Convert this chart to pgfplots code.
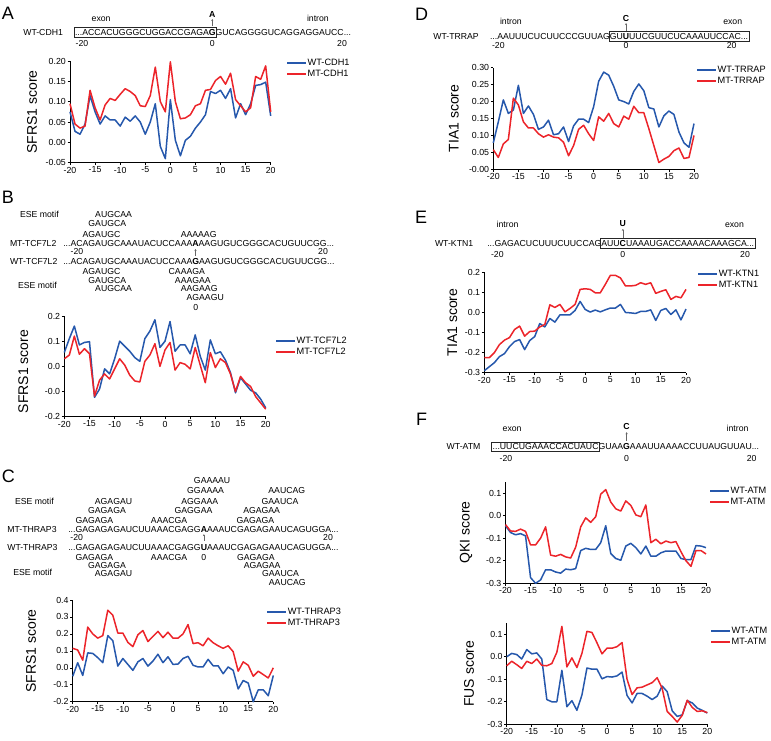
\documentclass[border=0pt]{standalone}
\usepackage{pgfplots}
\pgfplotsset{compat=1.18}
\usepackage{pgfplotstable}
\usepackage{fontspec}
\setmainfont{Liberation Sans}
\usetikzlibrary{calc,arrows.meta}
\definecolor{wtblue}{RGB}{38,88,172}
\definecolor{mtred}{RGB}{236,36,42}

\pgfplotstableread{
x wt mt
-20 0.075 0.095
-19 0.027 0.045
-18 0.020 0.035
-17 0.045 0.040
-16 0.115 0.128
-15 0.075 0.085
-14 0.045 0.055
-13 0.065 0.092
-12 0.055 0.108
-11 0.055 0.103
-10 0.040 0.118
-9 0.062 0.132
-8 0.052 0.125
-7 0.065 0.115
-6 0.050 0.090
-5 0.020 0.088
-4 0.050 0.115
-3 0.095 0.185
-2 -0.010 0.100
-1 -0.040 0.075
0 0.105 0.198
1 0.005 0.100
2 -0.033 0.058
3 0.005 0.060
4 0.015 0.068
5 0.035 0.090
6 0.050 0.095
7 0.068 0.128
8 0.125 0.130
9 0.120 0.152
10 0.128 0.162
11 0.108 0.143
12 0.132 0.170
13 0.060 0.105
14 0.095 0.090
15 0.068 0.075
16 0.095 0.085
17 0.140 0.162
18 0.142 0.155
19 0.148 0.188
20 0.065 0.075
}\dataA

\pgfplotstableread{
x wt mt
-20 0.055 0.030
-19 0.110 0.045
-18 0.160 0.120
-17 0.085 0.048
-16 0.095 0.070
-15 0.098 0.050
-14 -0.123 -0.118
-13 -0.090 -0.055
-12 -0.010 -0.030
-11 -0.030 -0.050
-10 0.030 -0.010
-9 0.100 0.030
-8 0.080 0.005
-7 0.060 -0.035
-6 0.035 -0.058
-5 0.020 -0.062
-4 0.110 0.020
-3 0.140 0.045
-2 0.185 0.090
-1 0.075 0.000
0 0.100 0.065
1 0.178 0.095
2 0.060 -0.015
3 0.085 0.015
4 0.085 0.008
5 0.050 -0.010
6 0.125 0.075
7 0.040 0.005
8 -0.015 -0.065
9 0.105 0.055
10 0.050 -0.005
11 0.058 0.030
12 0.025 0.015
13 -0.025 -0.030
14 -0.105 -0.100
15 -0.045 -0.040
16 -0.070 -0.065
17 -0.095 -0.080
18 -0.105 -0.120
19 -0.130 -0.145
20 -0.165 -0.170
}\dataB

\pgfplotstableread{
x wt mt
-20 -0.050 0.115
-19 0.030 0.105
-18 -0.045 0.045
-17 0.088 0.240
-16 0.085 0.200
-15 0.060 0.175
-14 0.030 0.190
-13 0.190 0.340
-12 0.160 0.310
-11 0.010 0.205
-10 0.055 0.205
-9 0.020 0.150
-8 -0.015 0.125
-7 0.035 0.195
-6 0.055 0.220
-5 0.010 0.155
-4 0.040 0.185
-3 0.080 0.215
-2 0.030 0.178
-1 0.065 0.210
0 0.020 0.175
1 0.022 0.175
2 0.055 0.200
3 0.068 0.255
4 0.015 0.143
5 0.005 0.148
6 0.005 0.130
7 0.050 0.175
8 0.012 0.148
9 0.012 0.130
10 -0.035 0.115
11 0.005 0.130
12 -0.015 0.095
13 -0.125 -0.020
14 -0.075 0.035
15 -0.090 0.015
16 -0.200 -0.050
17 -0.130 -0.020
18 -0.130 -0.040
19 -0.165 -0.060
20 -0.045 0.000
}\dataC

\pgfplotstableread{
x wt mt
-20 0.078 0.058
-19 0.140 0.035
-18 0.205 0.075
-17 0.165 0.088
-16 0.175 0.210
-15 0.248 0.190
-14 0.165 0.140
-13 0.187 0.122
-12 0.162 0.122
-11 0.118 0.105
-10 0.125 0.095
-9 0.145 0.102
-8 0.102 0.095
-7 0.105 0.093
-6 0.125 0.080
-5 0.082 0.040
-4 0.128 0.070
-3 0.148 0.118
-2 0.148 0.130
-1 0.138 0.105
0 0.185 0.085
1 0.260 0.155
2 0.287 0.142
3 0.278 0.165
4 0.245 0.135
5 0.205 0.125
6 0.200 0.157
7 0.193 0.148
8 0.230 0.186
9 0.252 0.167
10 0.232 0.167
11 0.182 0.120
12 0.178 0.070
13 0.125 0.020
14 0.158 0.030
15 0.172 0.038
16 0.162 0.055
17 0.110 0.063
18 0.078 0.032
19 0.065 0.035
20 0.135 0.100
}\dataD

\pgfplotstableread{
x wt mt
-20 -0.290 -0.225
-19 -0.270 -0.225
-18 -0.250 -0.200
-17 -0.220 -0.160
-16 -0.205 -0.138
-15 -0.170 -0.125
-14 -0.145 -0.085
-13 -0.135 -0.068
-12 -0.185 -0.118
-11 -0.140 -0.095
-10 -0.120 -0.093
-9 -0.055 -0.072
-8 -0.072 -0.060
-7 -0.030 0.038
-6 -0.048 0.025
-5 -0.012 0.040
-4 -0.012 0.003
-3 -0.012 0.020
-2 0.010 0.040
-1 0.055 0.115
0 0.015 0.118
1 0.002 0.115
2 0.012 0.098
3 0.003 0.098
4 0.013 0.140
5 0.022 0.185
6 0.022 0.185
7 0.040 0.172
8 0.000 0.132
9 -0.002 0.132
10 -0.005 0.135
11 0.005 0.148
12 0.005 0.140
13 0.013 0.148
14 -0.040 0.095
15 0.010 0.105
16 0.020 0.113
17 -0.010 0.065
18 0.013 0.080
19 -0.037 0.073
20 0.017 0.115
}\dataE

\pgfplotstableread{
x wt mt
-20 -0.045 -0.040
-19 -0.075 -0.068
-18 -0.085 -0.070
-17 -0.080 -0.060
-16 -0.090 -0.070
-15 -0.275 -0.130
-14 -0.300 -0.130
-13 -0.285 -0.100
-12 -0.240 -0.050
-11 -0.240 -0.175
-10 -0.250 -0.180
-9 -0.255 -0.172
-8 -0.237 -0.183
-7 -0.240 -0.188
-6 -0.235 -0.140
-5 -0.155 -0.050
-4 -0.145 -0.010
-3 -0.150 -0.030
-2 -0.150 -0.005
-1 -0.120 0.095
0 -0.045 0.115
1 -0.168 0.060
2 -0.190 0.030
3 -0.198 0.020
4 -0.135 0.065
5 -0.123 0.045
6 -0.142 0.003
7 -0.170 -0.005
8 -0.135 0.047
9 -0.180 -0.120
10 -0.180 -0.105
11 -0.165 -0.125
12 -0.157 -0.113
13 -0.157 -0.120
14 -0.157 -0.115
15 -0.190 -0.160
16 -0.195 -0.200
17 -0.195 -0.225
18 -0.133 -0.155
19 -0.135 -0.155
20 -0.142 -0.170
}\dataQ

\pgfplotstableread{
x wt mt
-20 0.000 -0.040
-19 0.015 -0.020
-18 0.010 -0.035
-17 -0.010 -0.052
-16 0.032 -0.020
-15 0.013 -0.030
-14 0.017 -0.010
-13 -0.010 -0.038
-12 -0.190 -0.040
-11 -0.200 -0.030
-10 -0.200 0.020
-9 -0.060 0.135
-8 -0.222 -0.045
-7 -0.195 -0.005
-6 -0.238 -0.048
-5 -0.170 0.015
-4 -0.050 0.113
-3 -0.055 0.108
-2 -0.055 0.062
-1 -0.098 0.013
0 -0.088 0.038
1 -0.090 0.038
2 -0.085 0.045
3 -0.068 0.063
4 -0.172 -0.100
5 -0.205 -0.168
6 -0.163 -0.138
7 -0.163 -0.135
8 -0.175 -0.125
9 -0.190 -0.115
10 -0.175 -0.093
11 -0.130 -0.140
12 -0.155 -0.243
13 -0.240 -0.265
14 -0.265 -0.290
15 -0.258 -0.260
16 -0.195 -0.193
17 -0.205 -0.225
18 -0.228 -0.243
19 -0.238 -0.240
20 -0.250 -0.248
}\dataF

\pgfplotsset{
 panel/.style={
  scale only axis, enlargelimits=false, clip=false,
  anchor=south west,
  axis x line*=bottom, axis y line*=left,
  tick align=outside, major tick length=2.5pt,
  xmin=-20, xmax=20,
  xtick={-20,-15,-10,-5,0,5,10,15,20},
  xticklabels={-20,-15,-10,-5,0,5,10,15,20},
  tick label style={font=\fontsize{8.8}{10}\selectfont},
  xticklabel style={inner ysep=1.5pt},
  yticklabel style={inner xsep=1.5pt},
  axis line style={line width=0.6pt,black},
  tick style={line width=0.6pt,black},
  ylabel style={font=\fontsize{14}{16}\selectfont, anchor=center},
  legend style={draw=none, fill=none, anchor=west, inner sep=0pt,
    font=\fontsize{9.2}{11}\selectfont, row sep=1pt,
    nodes={inner xsep=1.5pt, inner ysep=1pt}},
  legend cell align=left,
  legend image code/.code={\fill[#1, draw=none] (0pt,-1.1pt) rectangle (19pt,1.1pt);},
  every axis plot/.append style={line width=1.5pt, mark=none, line join=round},
 }
}

\begin{document}
\begin{tikzpicture}
\useasboundingbox (0pt,0pt) rectangle (771pt,-741pt);
\begin{scope}[x=1pt,y=-1pt,
  seq/.style={inner sep=0pt, outer sep=0pt, font=\fontsize{8.7}{10}\selectfont},
  plet/.style={inner sep=0pt, anchor=west, font=\fontsize{18}{20}\selectfont},
  arr/.style={line width=0.45pt, black!60, -{Stealth[length=2pt,width=2.2pt]}},
  boxst/.style={line width=0.6pt, black!85}]

% ---------- A ----------
\node[plet] at (1.7,13.3) {A};
\node[seq,anchor=base west] at (91.7,21.3) {exon};
\node[seq,anchor=base west] at (307,21.3) {intron};
\node[seq,anchor=base west] at (23.3,35.1) {WT-CDH1};
\node[seq,anchor=base west] (a1) at (75,35.1) {...ACCACUGGGCUGGACCGAGA};
\node[seq,anchor=base west] (a2) at (a1.base east) {\textbf{G}};
\node[seq,anchor=base west] (a3) at (a2.base east) {GUCAGGGGUCAGGAGGAUCC...};
\draw[boxst] ($(a1.west|-a2.north)+(-1pt,1.8pt)$) rectangle ($(a2.south east)+(0.8pt,-1.8pt)$);
\draw[arr] ($(a2.north)+(0,2.6pt)$) -- ($(a2.north)+(0,10pt)$);
\node[seq,anchor=south] at ($(a2.north)+(0,12pt)$) {\textbf{A}};
\node[seq,anchor=base] at (82,46.1) {-20};
\node[seq,anchor=base] at ($(a2.south)+(0,-11pt)$) {0};
\node[seq,anchor=base] at (342,46.1) {20};

% ---------- B ----------
\node[plet] at (1.7,197.5) {B};
\node[seq,anchor=base west] at (20,217.1) {ESE motif};
\node[seq,anchor=base west] at (63.3,217.1) {\phantom{...ACAG}AUGCAA};
\node[seq,anchor=base west] at (63.3,226.4) {\phantom{...ACA}GAUGCA};
\node[seq,anchor=base west] at (63.3,237.1) {\phantom{...AC}AGAUGC};
\node[seq,anchor=base west] at (63.3,237.1) {\phantom{...ACAGAUGCAAAUACUCCA}AAAAAG};
\node[seq,anchor=base west] at (10,246.4) {MT-TCF7L2};
\node[seq,anchor=base west] (b1) at (63.3,246.4) {...ACAGAUGCAAAUACUCCAAA};
\node[seq,anchor=base west] (b2) at (b1.base east) {\textbf{A}};
\node[seq,anchor=base west] at (b2.base east) {AAGUGUCGGGCACUGUUCGG...};
\node[seq,anchor=base] at (77,254.8) {-20};
\node[seq,anchor=base] at (323,254.8) {20};
\draw[arr] ($(b2.south)+(0,-9.6pt)$) -- ($(b2.south)+(0,-2.6pt)$);
\node[seq,anchor=base west] at (10,264.1) {WT-TCF7L2};
\node[seq,anchor=base west] (b3) at (63.3,264.1) {...ACAGAUGCAAAUACUCCAAA};
\node[seq,anchor=base west] (b4) at (b3.base east) {\textbf{G}};
\node[seq,anchor=base west] at (b4.base east) {AAGUGUCGGGCACUGUUCGG...};
\node[seq,anchor=base west] at (63.3,274.1) {\phantom{...AC}AGAUGC};
\node[seq,anchor=base west] at (63.3,274.1) {\phantom{...ACAGAUGCAAAUACUC}CAAAGA};
\node[seq,anchor=base west] at (63.3,283.1) {\phantom{...ACA}GAUGCA};
\node[seq,anchor=base west] at (63.3,283.1) {\phantom{...ACAGAUGCAAAUACUCC}AAAGAA};
\node[seq,anchor=base west] at (18,288.1) {ESE motif};
\node[seq,anchor=base west] at (63.3,291.1) {\phantom{...ACAG}AUGCAA};
\node[seq,anchor=base west] at (63.3,291.1) {\phantom{...ACAGAUGCAAAUACUCCA}AAGAAG};
\node[seq,anchor=base west] at (63.3,300.4) {\phantom{...ACAGAUGCAAAUACUCCAA}AGAAGU};
\node[seq,anchor=base] at ($(b4.south)+(0,-46.3pt)$) {0};

% ---------- C ----------
\node[plet] at (1.7,475.8) {C};
\node[seq,anchor=base west] at (68.3,483.1) {\phantom{...GAGAGAGAUCUUAAACGAG}GAAAAU};
\node[seq,anchor=base west] at (68.3,493.4) {\phantom{...GAGAGAGAUCUUAAACGA}GGAAAA};
\node[seq,anchor=base west] at (68.3,493.4) {\phantom{...GAGAGAGAUCUUAAACGAGGAAAAUCGAGAG}AAUCAG};
\node[seq,anchor=base west] at (15,504.8) {ESE motif};
\node[seq,anchor=base west] at (68.3,504.8) {\phantom{...GAG}AGAGAU};
\node[seq,anchor=base west] at (68.3,504.8) {\phantom{...GAGAGAGAUCUUAAACG}AGGAAA};
\node[seq,anchor=base west] at (68.3,504.8) {\phantom{...GAGAGAGAUCUUAAACGAGGAAAAUCGAGA}GAAUCA};
\node[seq,anchor=base west] at (68.3,513.8) {\phantom{...GA}GAGAGA};
\node[seq,anchor=base west] at (68.3,513.8) {\phantom{...GAGAGAGAUCUUAAAC}GAGGAA};
\node[seq,anchor=base west] at (68.3,513.8) {\phantom{...GAGAGAGAUCUUAAACGAGGAAAAUCG}AGAGAA};
\node[seq,anchor=base west] at (68.3,523.8) {\phantom{...}GAGAGA};
\node[seq,anchor=base west] at (68.3,523.8) {\phantom{...GAGAGAGAUCUU}AAACGA};
\node[seq,anchor=base west] at (68.3,523.8) {\phantom{...GAGAGAGAUCUUAAACGAGGAAAAUC}GAGAGA};
\node[seq,anchor=base west] at (7.3,532.4) {MT-THRAP3};
\node[seq,anchor=base west] (c1) at (68.3,532.4) {...GAGAGAGAUCUUAAACGAGG};
\node[seq,anchor=base west] (c2) at (c1.base east) {\textbf{A}};
\node[seq,anchor=base west] at (c2.base east) {AAAUCGAGAGAAUCAGUGGA...};
\node[seq,anchor=base] at (76.7,540.8) {-20};
\node[seq,anchor=base] at (328,540.8) {20};
\draw[arr] ($(c2.south)+(0,-8.5pt)$) -- ($(c2.south)+(0,-1.8pt)$);
\node[seq,anchor=base west] at (7.3,550.4) {WT-THRAP3};
\node[seq,anchor=base west] (c4) at (68.3,550.4) {...GAGAGAGAUCUUAAACGAGG};
\node[seq,anchor=base west] (c5) at (c4.base east) {\textbf{U}};
\node[seq,anchor=base west] at (c5.base east) {AAAUCGAGAGAAUCAGUGGA...};
\node[seq,anchor=base west] at (68.3,560.1) {\phantom{...}GAGAGA};
\node[seq,anchor=base west] at (68.3,560.1) {\phantom{...GAGAGAGAUCUU}AAACGA};
\node[seq,anchor=base] at ($(c5.south)+(0,-9.7pt)$) {0};
\node[seq,anchor=base west] at (68.3,560.1) {\phantom{...GAGAGAGAUCUUAAACGAGGUAAAUC}GAGAGA};
\node[seq,anchor=base west] at (68.3,568.4) {\phantom{...GA}GAGAGA};
\node[seq,anchor=base west] at (68.3,568.4) {\phantom{...GAGAGAGAUCUUAAACGAGGUAAAUCG}AGAGAA};
\node[seq,anchor=base west] at (13.3,575.8) {ESE motif};
\node[seq,anchor=base west] at (68.3,576.4) {\phantom{...GAG}AGAGAU};
\node[seq,anchor=base west] at (68.3,576.4) {\phantom{...GAGAGAGAUCUUAAACGAGGUAAAUCGAGA}GAAUCA};
\node[seq,anchor=base west] at (68.3,585.8) {\phantom{...GAGAGAGAUCUUAAACGAGGUAAAUCGAGAG}AAUCAG};

% ---------- D ----------
\node[plet] at (415,14) {D};
\node[seq,anchor=base west] at (500,24.6) {intron};
\node[seq,anchor=base west] at (723.3,24.6) {exon};
\node[seq,anchor=base west] at (433.3,39.1) {WT-TRRAP};
\node[seq,anchor=base west] (d1) at (490,39.1) {...AAUUUCUCUUCCCGUUAG};
\node[seq,anchor=base west] (d2) at (d1.base east) {GU};
\node[seq,anchor=base west] (d3) at (d2.base east) {\textbf{U}};
\node[seq,anchor=base west] (d4) at (d3.base east) {UUCGUUCUCAAAUUCCAC...};
\draw[boxst] ($(d2.west|-d3.north)+(-0.8pt,1.8pt)$) rectangle ($(d4.east|-d3.south)+(1pt,-1.8pt)$);
\draw[arr] ($(d3.north)+(0,2.6pt)$) -- ($(d3.north)+(0,10pt)$);
\node[seq,anchor=south] at ($(d3.north)+(0,12pt)$) {\textbf{C}};
\node[seq,anchor=base] at (498.3,48.8) {-20};
\node[seq,anchor=base] at ($(d3.south)+(0,-9.7pt)$) {0};
\node[seq,anchor=base] at (731.7,48.8) {20};

% ---------- E ----------
\node[plet] at (415,217) {E};
\node[seq,anchor=base west] at (496.7,227.3) {intron};
\node[seq,anchor=base west] at (725,227.3) {exon};
\node[seq,anchor=base west] at (435,246.4) {WT-KTN1};
\node[seq,anchor=base west] (e1) at (487.3,246.4) {...GAGACUCUUUCUUCCAG};
\node[seq,anchor=base west] (e2) at (e1.base east) {AUU};
\node[seq,anchor=base west] (e3) at (e2.base east) {\textbf{C}};
\node[seq,anchor=base west] (e4) at (e3.base east) {UAAAUGACCAAAACAAAGCA...};
\draw[boxst] ($(e2.west|-e3.north)+(-0.8pt,1.8pt)$) rectangle ($(e4.east|-e3.south)+(1pt,-1.8pt)$);
\draw[arr] ($(e3.north)+(0,2.6pt)$) -- ($(e3.north)+(0,11.5pt)$);
\node[seq,anchor=south] at ($(e3.north)+(0,14pt)$) {\textbf{U}};
\node[seq,anchor=base] at (497.3,257.4) {-20};
\node[seq,anchor=base] at ($(e3.south)+(0,-11pt)$) {0};
\node[seq,anchor=base] at (745,257.4) {20};

% ---------- F ----------
\node[plet] at (416,419) {F};
\node[seq,anchor=base west] at (502.7,431.6) {exon};
\node[seq,anchor=base west] at (726.7,431.6) {intron};
\node[seq,anchor=base west] at (446.7,449.8) {WT-ATM};
\node[seq,anchor=base west] (f1) at (492.7,449.8) {...UUCUGAAACCACUAUC};
\node[seq,anchor=base west] (f2) at (f1.base east) {GUAA};
\node[seq,anchor=base west] (f3) at (f2.base east) {\textbf{G}};
\node[seq,anchor=base west] (f4) at (f3.base east) {AAAUUAAAACCUUAUGUUAU...};
\draw[boxst] ($(f1.west|-f3.north)+(-1pt,1.8pt)$) rectangle ($(f1.east|-f3.south)+(0.6pt,-1.8pt)$);
\draw[arr] ($(f3.north)+(0,2.6pt)$) -- ($(f3.north)+(0,11.5pt)$);
\node[seq,anchor=south] at ($(f3.north)+(0,14pt)$) {\textbf{C}};
\node[seq,anchor=base] at (506,461.4) {-20};
\node[seq,anchor=base] at ($(f3.south)+(0,-11.6pt)$) {0};
\node[seq,anchor=base] at (751.7,461.4) {20};
\end{scope}

% ---------- axes ----------
\begin{axis}[panel, at={(70pt,-162.7pt)}, width=200.7pt, height=101.7pt,
  ymin=-0.05, ymax=0.2, ytick={-0.05,0,0.05,0.1,0.15,0.2},
  yticklabels={-0.05,0.00,0.05,0.10,0.15,0.20},
  ylabel={SFRS1 score}, ylabel style={at={(axis description cs:-0.189,0.5)}},
  legend style={at={(axis description cs:1.081,0.926)}}]
\addplot[wtblue] table[x=x,y=wt] {\dataA};
\addplot[mtred] table[x=x,y=mt] {\dataA};
\legend{WT-CDH1,MT-CDH1}
\end{axis}

\begin{axis}[panel, at={(64.3pt,-416.7pt)}, width=201.4pt, height=100.7pt,
  ymin=-0.2, ymax=0.2, ytick={-0.2,-0.1,0,0.1,0.2},
  yticklabels={-0.2,-0.0,0.0,0.1,0.2},
  ylabel={SFRS1 score}, ylabel style={at={(axis description cs:-0.203,0.45)}},
  legend style={at={(axis description cs:1.051,0.70)}}]
\addplot[wtblue] table[x=x,y=wt] {\dataB};
\addplot[mtred] table[x=x,y=mt] {\dataB};
\legend{WT-TCF7L2,MT-TCF7L2}
\end{axis}

\begin{axis}[panel, at={(72.7pt,-701.7pt)}, width=200.6pt, height=101.7pt,
  ymin=-0.2, ymax=0.4, ytick={-0.2,-0.1,0,0.1,0.2,0.3,0.4},
  yticklabels={-0.2,-0.1,0.0,0.1,0.2,0.3,0.4},
  ylabel={SFRS1 score}, ylabel style={at={(axis description cs:-0.208,0.5)}},
  legend style={at={(axis description cs:0.969,0.826)}}]
\addplot[wtblue] table[x=x,y=wt] {\dataC};
\addplot[mtred] table[x=x,y=mt] {\dataC};
\legend{WT-THRAP3,MT-THRAP3}
\end{axis}

\begin{axis}[panel, at={(493.3pt,-169.3pt)}, width=200.7pt, height=101.6pt,
  ymin=0, ymax=0.3, ytick={0,0.05,0.1,0.15,0.2,0.25,0.3},
  yticklabels={-0.00,0.05,0.10,0.15,0.20,0.25,0.30},
  ylabel={TIA1 score}, ylabel style={at={(axis description cs:-0.196,0.5)}},
  legend style={at={(axis description cs:1.015,0.925)}}]
\addplot[wtblue] table[x=x,y=wt] {\dataD};
\addplot[mtred] table[x=x,y=mt] {\dataD};
\legend{WT-TRRAP,MT-TRRAP}
\end{axis}

\begin{axis}[panel, at={(484.3pt,-372.7pt)}, width=201.7pt, height=100.4pt,
  ymin=-0.3, ymax=0.2, ytick={-0.3,-0.2,-0.1,0,0.1,0.2},
  yticklabels={-0.3,-0.2,-0.1,0.0,0.1,0.2},
  ylabel={TIA1 score}, ylabel style={at={(axis description cs:-0.158,0.5)}},
  legend style={at={(axis description cs:1.06,0.926)}}]
\addplot[wtblue] table[x=x,y=wt] {\dataE};
\addplot[mtred] table[x=x,y=mt] {\dataE};
\legend{WT-KTN1,MT-KTN1}
\end{axis}

\begin{axis}[panel, at={(505.5pt,-583.3pt)}, width=200.5pt, height=101.6pt,
  ymin=-0.3, ymax=0.15, ytick={-0.3,-0.2,-0.1,0,0.1},
  yticklabels={-0.3,-0.2,-0.1,0.0,0.1},
  ylabel={QKI score}, ylabel style={at={(axis description cs:-0.197,0.5)}},
  legend style={at={(axis description cs:1.02,0.852)}}]
\addplot[wtblue] table[x=x,y=wt] {\dataQ};
\addplot[mtred] table[x=x,y=mt] {\dataQ};
\legend{WT-ATM,MT-ATM}
\end{axis}

\begin{axis}[panel, at={(506.7pt,-724.3pt)}, width=200.6pt, height=101.3pt,
  ymin=-0.3, ymax=0.15, ytick={-0.3,-0.2,-0.1,0,0.1},
  yticklabels={-0.3,-0.2,-0.1,0.0,0.1},
  ylabel={FUS score}, ylabel style={at={(axis description cs:-0.188,0.5)}},
  legend style={at={(axis description cs:1.018,0.865)}}]
\addplot[wtblue] table[x=x,y=wt] {\dataF};
\addplot[mtred] table[x=x,y=mt] {\dataF};
\legend{WT-ATM,MT-ATM}
\end{axis}
\end{tikzpicture}
\end{document}
